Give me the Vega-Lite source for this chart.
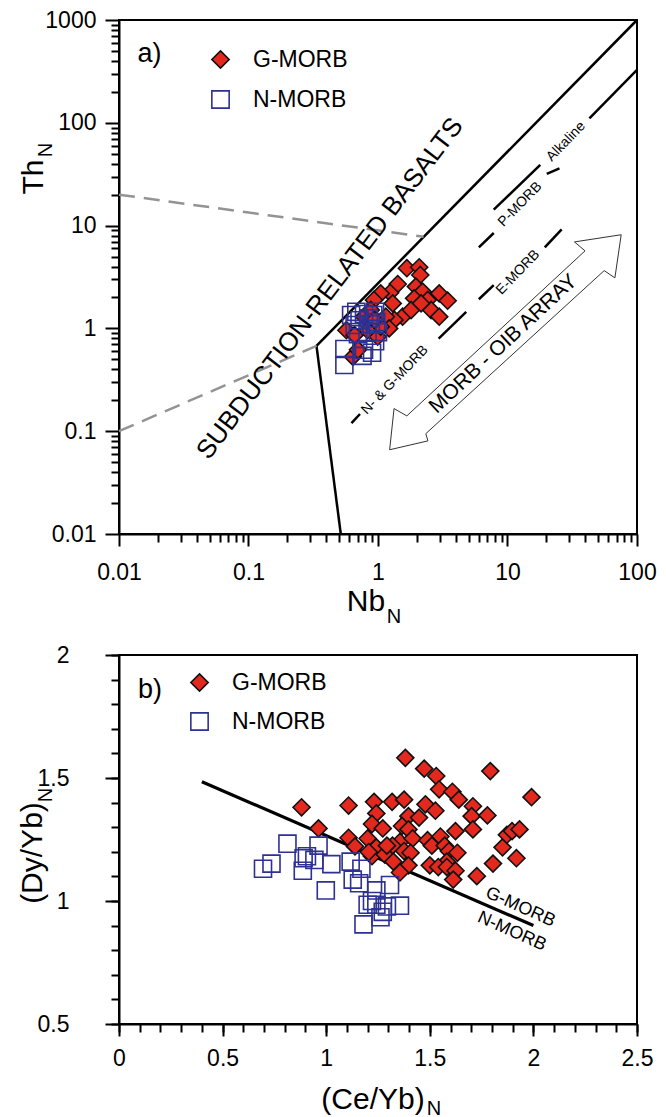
{
  "$schema": "https://vega.github.io/schema/vega-lite/v6.json",
  "padding": {"left": 17, "top": 8, "right": 10, "bottom": 4},
  "bounds": "flush",
  "spacing": 121,
  "config": {
    "font": "Liberation Sans",
    "view": {"stroke": "black", "strokeWidth": 2},
    "axis": {"domainColor": "black", "domainWidth": 2, "tickColor": "black", "tickWidth": 2, "labelFont": "Liberation Sans", "labelFontSize": 23, "labelColor": "black", "grid": false, "title": null, "labelOverlap": false, "labelFlush": false},
    "legend": {"labelFont": "Liberation Sans", "labelFontSize": 23, "labelColor": "black"}
  },
  "resolve": {
    "scale": {"x": "independent", "y": "independent", "shape": "independent", "fill": "independent", "stroke": "independent"},
    "legend": {"shape": "independent", "fill": "independent", "stroke": "independent"}
  },
  "vconcat": [
    {
      "width": 518,
      "height": 514,
      "layer": [
        {
          "data": {"values": [
            {"x": 0.335, "y": 0.676, "x2": 100, "y2": 1000},
            {"x": 0.335, "y": 0.676, "x2": 0.516, "y2": 0.01},
            {"x": 100, "y": 327, "x2": 42.9, "y2": 110.6},
            {"x": 17.9, "y": 38.9, "x2": 7.83, "y2": 14.3},
            {"x": 20.1, "y": 31.9, "x2": 25.2, "y2": 36.0},
            {"x": 6.01, "y": 6.15, "x2": 7.83, "y2": 8.47},
            {"x": 19.4, "y": 6.15, "x2": 26.2, "y2": 9.19},
            {"x": 6.01, "y": 1.92, "x2": 7.83, "y2": 2.64},
            {"x": 2.94, "y": 0.794, "x2": 4.80, "y2": 1.45},
            {"x": 0.624, "y": 0.120, "x2": 0.726, "y2": 0.147}
          ]},
          "mark": {"type": "rule", "color": "black", "strokeWidth": 2.5},
          "encoding": {
            "x": {"field": "x", "type": "quantitative", "scale": {"type": "log", "domain": [0.01, 100], "nice": false},
              "axis": {"values": [0.01,0.02,0.03,0.04,0.05,0.06,0.07,0.08,0.09,0.1,0.2,0.3,0.4,0.5,0.6,0.7,0.8,0.9,1,2,3,4,5,6,7,8,9,10,20,30,40,50,60,70,80,90,100],
                "format": "~g", "labelOverlap": false,
                "labelExpr": "abs(log(datum.value)/LN10 - round(log(datum.value)/LN10)) < 0.001 ? datum.label : ''",
                "tickSize": {"condition": {"test": "abs(log(datum.value)/LN10 - round(log(datum.value)/LN10)) < 0.001", "value": 12}, "value": 8},
                "labelPadding": 15}},
            "y": {"field": "y", "type": "quantitative", "scale": {"type": "log", "domain": [0.01, 1000], "nice": false},
              "axis": {"values": [0.01,0.02,0.03,0.04,0.05,0.06,0.07,0.08,0.09,0.1,0.2,0.3,0.4,0.5,0.6,0.7,0.8,0.9,1,2,3,4,5,6,7,8,9,10,20,30,40,50,60,70,80,90,100,200,300,400,500,600,700,800,900,1000],
                "format": "~g", "labelOverlap": false,
                "labelExpr": "abs(log(datum.value)/LN10 - round(log(datum.value)/LN10)) < 0.001 ? datum.label : ''",
                "tickSize": {"condition": {"test": "abs(log(datum.value)/LN10 - round(log(datum.value)/LN10)) < 0.001", "value": 14}, "value": 8},
                "labelPadding": 9}},
            "x2": {"field": "x2"},
            "y2": {"field": "y2"}
          }
        },
        {
          "data": {"values": [
            {"x": 0.01, "y": 20, "x2": 2.25, "y2": 7.8},
            {"x": 0.01, "y": 0.1, "x2": 0.335, "y2": 0.676}
          ]},
          "mark": {"type": "rule", "color": "#939393", "strokeWidth": 2.5, "strokeDash": [16, 9]},
          "encoding": {
            "x": {"field": "x", "type": "quantitative"},
            "y": {"field": "y", "type": "quantitative"},
            "x2": {"field": "x2"},
            "y2": {"field": "y2"}
          }
        },
        {
          "data": {"values": [
            {"i": 1, "x": 1.23, "y": 0.066},
            {"i": 2, "x": 1.33, "y": 0.166},
            {"i": 3, "x": 1.67, "y": 0.141},
            {"i": 4, "x": 39.7, "y": 5.68},
            {"i": 5, "x": 32.9, "y": 6.94},
            {"i": 6, "x": 75.5, "y": 8.15},
            {"i": 7, "x": 67.5, "y": 3.10},
            {"i": 8, "x": 55.8, "y": 3.65},
            {"i": 9, "x": 2.34, "y": 0.0946},
            {"i": 10, "x": 2.43, "y": 0.0805},
            {"i": 11, "x": 1.23, "y": 0.066}
          ]},
          "mark": {"type": "line", "color": "#333333", "strokeWidth": 1},
          "encoding": {
            "x": {"field": "x", "type": "quantitative"},
            "y": {"field": "y", "type": "quantitative"},
            "order": {"field": "i"}
          }
        },
        {
          "data": {"values": [{"x": 0.0172, "y": 467, "t": "a)"}]},
          "mark": {"type": "text", "fontSize": 27, "align": "center", "baseline": "middle", "color": "black"},
          "encoding": {"x": {"field": "x", "type": "quantitative"}, "y": {"field": "y", "type": "quantitative"}, "text": {"field": "t"}}
        },
        {
          "data": {"values": [{"x": 0.426, "y": 2.44, "t": "SUBDUCTION-RELATED BASALTS"}]},
          "mark": {"type": "text", "fontSize": 26, "angle": 307.3, "align": "center", "baseline": "middle", "color": "black"},
          "encoding": {"x": {"field": "x", "type": "quantitative"}, "y": {"field": "y", "type": "quantitative"}, "text": {"field": "t"}}
        },
        {
          "data": {"values": [{"x": 9.29, "y": 0.705, "t": "MORB - OIB ARRAY"}]},
          "mark": {"type": "text", "fontSize": 21, "angle": 317.1, "align": "center", "baseline": "middle", "color": "black"},
          "encoding": {"x": {"field": "x", "type": "quantitative"}, "y": {"field": "y", "type": "quantitative"}, "text": {"field": "t"}}
        },
        {
          "data": {"values": [
            {"x": 1.35, "y": 0.315, "t": "N- & G-MORB"},
            {"x": 12.05, "y": 3.51, "t": "E-MORB"},
            {"x": 12.5, "y": 16.1, "t": "P-MORB"},
            {"x": 28.3, "y": 65.6, "t": "Alkaline"}
          ]},
          "mark": {"type": "text", "fontSize": 14, "angle": 314, "align": "center", "baseline": "middle", "color": "black"},
          "encoding": {"x": {"field": "x", "type": "quantitative"}, "y": {"field": "y", "type": "quantitative"}, "text": {"field": "t"}}
        },
        {
          "data": {"values": [{"x": 0.00221, "y": 29.7, "t": "Th"}, {"x": 0.807, "y": 0.00216, "t": "Nb"}]},
          "mark": {"type": "text", "fontSize": 30, "align": "center", "baseline": "middle", "color": "black"},
          "encoding": {"x": {"field": "x", "type": "quantitative"}, "y": {"field": "y", "type": "quantitative"}, "text": {"field": "t"},
            "angle": {"condition": {"test": "datum.t == 'Th'", "value": 270}, "value": 0}}
        },
        {
          "data": {"values": [{"x": 0.00273, "y": 54.3, "t": "N", "r": "y"}, {"x": 1.33, "y": 0.00157, "t": "N", "r": "x"}]},
          "mark": {"type": "text", "fontSize": 20, "align": "center", "baseline": "middle", "color": "black"},
          "encoding": {"x": {"field": "x", "type": "quantitative"}, "y": {"field": "y", "type": "quantitative"}, "text": {"field": "t"},
            "angle": {"condition": {"test": "datum.r == 'y'", "value": 270}, "value": 0}}
        },
        {
          "data": {"values": [
            {"x": 1.67, "y": 3.85, "type": "G-MORB"}, {"x": 2.08, "y": 3.93, "type": "G-MORB"}, {"x": 2.12, "y": 3.31, "type": "G-MORB"},
            {"x": 1.42, "y": 2.70, "type": "G-MORB"}, {"x": 1.24, "y": 2.22, "type": "G-MORB"}, {"x": 1.05, "y": 2.19, "type": "G-MORB"},
            {"x": 0.93, "y": 1.89, "type": "G-MORB"}, {"x": 1.30, "y": 1.75, "type": "G-MORB"}, {"x": 1.55, "y": 1.30, "type": "G-MORB"},
            {"x": 1.34, "y": 1.21, "type": "G-MORB"}, {"x": 1.15, "y": 1.30, "type": "G-MORB"}, {"x": 1.22, "y": 1.00, "type": "G-MORB"},
            {"x": 0.995, "y": 0.83, "type": "G-MORB"}, {"x": 1.96, "y": 2.55, "type": "G-MORB"}, {"x": 2.21, "y": 2.28, "type": "G-MORB"},
            {"x": 1.90, "y": 1.96, "type": "G-MORB"}, {"x": 2.42, "y": 1.89, "type": "G-MORB"}, {"x": 2.97, "y": 2.19, "type": "G-MORB"},
            {"x": 3.45, "y": 1.86, "type": "G-MORB"}, {"x": 2.57, "y": 1.51, "type": "G-MORB"}, {"x": 2.97, "y": 1.30, "type": "G-MORB"},
            {"x": 1.80, "y": 1.51, "type": "G-MORB"}, {"x": 2.15, "y": 1.75, "type": "G-MORB"}, {"x": 0.57, "y": 0.96, "type": "G-MORB"},
            {"x": 0.66, "y": 0.86, "type": "G-MORB"}, {"x": 0.78, "y": 1.30, "type": "G-MORB"}, {"x": 0.88, "y": 1.51, "type": "G-MORB"},
            {"x": 0.64, "y": 0.53, "type": "G-MORB"}, {"x": 0.70, "y": 0.62, "type": "G-MORB"}, {"x": 1.05, "y": 1.04, "type": "G-MORB"},
            {"x": 0.83, "y": 0.96, "type": "G-MORB"}, {"x": 0.94, "y": 1.21, "type": "G-MORB"},
            {"x": 0.55, "y": 0.63, "type": "N-MORB"}, {"x": 0.55, "y": 0.44, "type": "N-MORB"}, {"x": 0.62, "y": 1.35, "type": "N-MORB"},
            {"x": 0.78, "y": 1.38, "type": "N-MORB"}, {"x": 0.92, "y": 1.35, "type": "N-MORB"}, {"x": 0.66, "y": 1.08, "type": "N-MORB"},
            {"x": 0.88, "y": 1.10, "type": "N-MORB"}, {"x": 0.70, "y": 0.88, "type": "N-MORB"}, {"x": 0.83, "y": 0.92, "type": "N-MORB"},
            {"x": 1.0, "y": 0.92, "type": "N-MORB"}, {"x": 0.78, "y": 0.62, "type": "N-MORB"}, {"x": 0.90, "y": 0.58, "type": "N-MORB"},
            {"x": 0.76, "y": 0.54, "type": "N-MORB"}, {"x": 0.95, "y": 0.75, "type": "N-MORB"}, {"x": 0.85, "y": 1.25, "type": "N-MORB"},
            {"x": 0.72, "y": 1.2, "type": "N-MORB"}, {"x": 0.97, "y": 1.15, "type": "N-MORB"}, {"x": 0.68, "y": 1.45, "type": "N-MORB"},
            {"x": 0.95, "y": 1.45, "type": "N-MORB"}
          ]},
          "mark": {"type": "point", "filled": false, "size": 290, "strokeWidth": 1.6, "opacity": 1},
          "encoding": {
            "x": {"field": "x", "type": "quantitative"},
            "y": {"field": "y", "type": "quantitative"},
            "shape": {"field": "type", "type": "nominal", "scale": {"domain": ["G-MORB", "N-MORB"], "range": ["diamond", "square"]},
              "legend": {"title": null, "orient": "none", "legendX": 90, "legendY": 28, "symbolSize": 300, "labelOffset": 21, "rowPadding": 15, "padding": 0, "symbolStrokeWidth": 1.6, "labelFontSize": 23}},
            "fill": {"field": "type", "type": "nominal", "scale": {"domain": ["G-MORB", "N-MORB"], "range": ["#E3281E", "transparent"]}},
            "stroke": {"field": "type", "type": "nominal", "scale": {"domain": ["G-MORB", "N-MORB"], "range": ["#111111", "#2E3192"]}}
          }
        }
      ]
    },
    {
      "width": 518,
      "height": 369,
      "resolve": {"axis": {"x": "independent", "y": "independent"}},
      "layer": [
        {
          "data": {"values": [{"x": 0.4, "y": 1.485, "x2": 2.0, "y2": 0.9}]},
          "mark": {"type": "rule", "color": "black", "strokeWidth": 3.3},
          "encoding": {
            "x": {"field": "x", "type": "quantitative", "scale": {"domain": [0, 2.5], "nice": false, "zero": false},
              "axis": {"values": [0, 0.5, 1, 1.5, 2, 2.5], "orient": "bottom", "format": "~g", "labelOverlap": false, "tickSize": 12, "labelPadding": 11}},
            "y": {"field": "y", "type": "quantitative", "scale": {"domain": [0.5, 2], "nice": false, "zero": false},
              "axis": {"values": [0.5, 1, 1.5, 2], "orient": "left", "format": "~g", "labelOverlap": false, "tickSize": 14, "labelPadding": 36}},
            "x2": {"field": "x2"},
            "y2": {"field": "y2"}
          }
        },
        {
          "data": {"values": [{"x": 0.15, "y": 1.858, "t": "b)"}]},
          "mark": {"type": "text", "fontSize": 27, "align": "center", "baseline": "middle", "color": "black"},
          "encoding": {
            "x": {"field": "x", "type": "quantitative",
              "axis": {"values": [0,0.1,0.2,0.3,0.4,0.5,0.6,0.7,0.8,0.9,1,1.1,1.2,1.3,1.4,1.5,1.6,1.7,1.8,1.9,2,2.1,2.2,2.3,2.4,2.5], "orient": "bottom", "labels": false, "domain": false, "tickSize": 8}},
            "y": {"field": "y", "type": "quantitative",
              "axis": {"values": [0.5,0.6,0.7,0.8,0.9,1,1.1,1.2,1.3,1.4,1.5,1.6,1.7,1.8,1.9,2], "orient": "left", "labels": false, "domain": false, "tickSize": 8}},
            "text": {"field": "t"}}
        },
        {
          "data": {"values": [{"x": 1.937, "y": 0.975, "t": "G-MORB"}, {"x": 1.896, "y": 0.876, "t": "N-MORB"}]},
          "mark": {"type": "text", "fontSize": 18, "angle": 24, "align": "center", "baseline": "middle", "color": "black"},
          "encoding": {"x": {"field": "x", "type": "quantitative", "axis": null}, "y": {"field": "y", "type": "quantitative", "axis": null}, "text": {"field": "t"}}
        },
        {
          "data": {"values": [{"x": -0.415, "y": 1.195, "t": "(Dy/Yb)", "r": "y"}, {"x": 1.226, "y": 0.191, "t": "(Ce/Yb)", "r": "x"}]},
          "mark": {"type": "text", "fontSize": 30, "align": "center", "baseline": "middle", "color": "black"},
          "encoding": {"x": {"field": "x", "type": "quantitative", "axis": null}, "y": {"field": "y", "type": "quantitative", "axis": null}, "text": {"field": "t"},
            "angle": {"condition": {"test": "datum.r == 'y'", "value": 270}, "value": 0}}
        },
        {
          "data": {"values": [{"x": -0.352, "y": 1.431, "t": "N", "r": "y"}, {"x": 1.52, "y": 0.154, "t": "N", "r": "x"}]},
          "mark": {"type": "text", "fontSize": 20, "align": "center", "baseline": "middle", "color": "black"},
          "encoding": {"x": {"field": "x", "type": "quantitative", "axis": null}, "y": {"field": "y", "type": "quantitative", "axis": null}, "text": {"field": "t"},
            "angle": {"condition": {"test": "datum.r == 'y'", "value": 270}, "value": 0}}
        },
        {
          "data": {"values": [
            {"x": 0.881, "y": 1.381, "type": "G-MORB"}, {"x": 0.963, "y": 1.295, "type": "G-MORB"}, {"x": 1.108, "y": 1.388, "type": "G-MORB"},
            {"x": 1.108, "y": 1.257, "type": "G-MORB"}, {"x": 1.139, "y": 1.222, "type": "G-MORB"}, {"x": 1.231, "y": 1.403, "type": "G-MORB"},
            {"x": 1.242, "y": 1.356, "type": "G-MORB"}, {"x": 1.221, "y": 1.313, "type": "G-MORB"}, {"x": 1.273, "y": 1.295, "type": "G-MORB"},
            {"x": 1.200, "y": 1.254, "type": "G-MORB"}, {"x": 1.242, "y": 1.218, "type": "G-MORB"}, {"x": 1.221, "y": 1.182, "type": "G-MORB"},
            {"x": 1.318, "y": 1.403, "type": "G-MORB"}, {"x": 1.376, "y": 1.412, "type": "G-MORB"}, {"x": 1.382, "y": 1.582, "type": "G-MORB"},
            {"x": 1.473, "y": 1.538, "type": "G-MORB"}, {"x": 1.531, "y": 1.508, "type": "G-MORB"}, {"x": 1.545, "y": 1.454, "type": "G-MORB"},
            {"x": 1.609, "y": 1.444, "type": "G-MORB"}, {"x": 1.640, "y": 1.412, "type": "G-MORB"}, {"x": 1.792, "y": 1.528, "type": "G-MORB"},
            {"x": 1.991, "y": 1.422, "type": "G-MORB"}, {"x": 1.479, "y": 1.393, "type": "G-MORB"}, {"x": 1.527, "y": 1.367, "type": "G-MORB"},
            {"x": 1.708, "y": 1.385, "type": "G-MORB"}, {"x": 1.702, "y": 1.345, "type": "G-MORB"}, {"x": 1.778, "y": 1.348, "type": "G-MORB"},
            {"x": 1.708, "y": 1.291, "type": "G-MORB"}, {"x": 1.397, "y": 1.345, "type": "G-MORB"}, {"x": 1.448, "y": 1.339, "type": "G-MORB"},
            {"x": 1.366, "y": 1.305, "type": "G-MORB"}, {"x": 1.397, "y": 1.291, "type": "G-MORB"}, {"x": 1.356, "y": 1.240, "type": "G-MORB"},
            {"x": 1.417, "y": 1.254, "type": "G-MORB"}, {"x": 1.489, "y": 1.247, "type": "G-MORB"}, {"x": 1.551, "y": 1.262, "type": "G-MORB"},
            {"x": 1.624, "y": 1.284, "type": "G-MORB"}, {"x": 1.320, "y": 1.225, "type": "G-MORB"}, {"x": 1.376, "y": 1.203, "type": "G-MORB"},
            {"x": 1.407, "y": 1.196, "type": "G-MORB"}, {"x": 1.283, "y": 1.189, "type": "G-MORB"}, {"x": 1.324, "y": 1.160, "type": "G-MORB"},
            {"x": 1.397, "y": 1.145, "type": "G-MORB"}, {"x": 1.356, "y": 1.116, "type": "G-MORB"}, {"x": 1.510, "y": 1.225, "type": "G-MORB"},
            {"x": 1.572, "y": 1.225, "type": "G-MORB"}, {"x": 1.592, "y": 1.203, "type": "G-MORB"}, {"x": 1.633, "y": 1.196, "type": "G-MORB"},
            {"x": 1.582, "y": 1.160, "type": "G-MORB"}, {"x": 1.500, "y": 1.145, "type": "G-MORB"}, {"x": 1.541, "y": 1.138, "type": "G-MORB"},
            {"x": 1.582, "y": 1.138, "type": "G-MORB"}, {"x": 1.624, "y": 1.123, "type": "G-MORB"}, {"x": 1.613, "y": 1.087, "type": "G-MORB"},
            {"x": 1.727, "y": 1.101, "type": "G-MORB"}, {"x": 1.805, "y": 1.152, "type": "G-MORB"}, {"x": 1.851, "y": 1.218, "type": "G-MORB"},
            {"x": 1.872, "y": 1.269, "type": "G-MORB"}, {"x": 1.897, "y": 1.284, "type": "G-MORB"}, {"x": 1.933, "y": 1.291, "type": "G-MORB"},
            {"x": 1.918, "y": 1.174, "type": "G-MORB"}, {"x": 1.205, "y": 1.199, "type": "G-MORB"}, {"x": 1.293, "y": 1.225, "type": "G-MORB"},
            {"x": 0.695, "y": 1.131, "type": "N-MORB"}, {"x": 0.736, "y": 1.152, "type": "N-MORB"}, {"x": 0.813, "y": 1.233, "type": "N-MORB"},
            {"x": 0.891, "y": 1.174, "type": "N-MORB"}, {"x": 0.887, "y": 1.123, "type": "N-MORB"}, {"x": 0.907, "y": 1.182, "type": "N-MORB"},
            {"x": 0.943, "y": 1.167, "type": "N-MORB"}, {"x": 0.963, "y": 1.225, "type": "N-MORB"}, {"x": 1.025, "y": 1.150, "type": "N-MORB"},
            {"x": 0.998, "y": 1.043, "type": "N-MORB"}, {"x": 1.118, "y": 1.160, "type": "N-MORB"}, {"x": 1.128, "y": 1.087, "type": "N-MORB"},
            {"x": 1.159, "y": 1.072, "type": "N-MORB"}, {"x": 1.170, "y": 1.131, "type": "N-MORB"}, {"x": 1.200, "y": 0.985, "type": "N-MORB"},
            {"x": 1.180, "y": 0.905, "type": "N-MORB"}, {"x": 1.242, "y": 1.043, "type": "N-MORB"}, {"x": 1.242, "y": 0.985, "type": "N-MORB"},
            {"x": 1.273, "y": 0.956, "type": "N-MORB"}, {"x": 1.293, "y": 0.978, "type": "N-MORB"}, {"x": 1.356, "y": 0.981, "type": "N-MORB"},
            {"x": 1.308, "y": 1.065, "type": "N-MORB"}, {"x": 1.221, "y": 1.000, "type": "N-MORB"}, {"x": 1.262, "y": 0.934, "type": "N-MORB"}
          ]},
          "mark": {"type": "point", "filled": false, "size": 290, "strokeWidth": 1.6, "opacity": 1},
          "encoding": {
            "x": {"field": "x", "type": "quantitative", "axis": null},
            "y": {"field": "y", "type": "quantitative", "axis": null},
            "shape": {"field": "type", "type": "nominal", "scale": {"domain": ["G-MORB", "N-MORB"], "range": ["diamond", "square"]},
              "legend": {"title": null, "orient": "none", "legendX": 69, "legendY": 16, "symbolSize": 300, "labelOffset": 21, "rowPadding": 14, "padding": 0, "symbolStrokeWidth": 1.6, "labelFontSize": 23}},
            "fill": {"field": "type", "type": "nominal", "scale": {"domain": ["G-MORB", "N-MORB"], "range": ["#E3281E", "transparent"]}},
            "stroke": {"field": "type", "type": "nominal", "scale": {"domain": ["G-MORB", "N-MORB"], "range": ["#111111", "#2E3192"]}}
          }
        }
      ]
    }
  ]
}
